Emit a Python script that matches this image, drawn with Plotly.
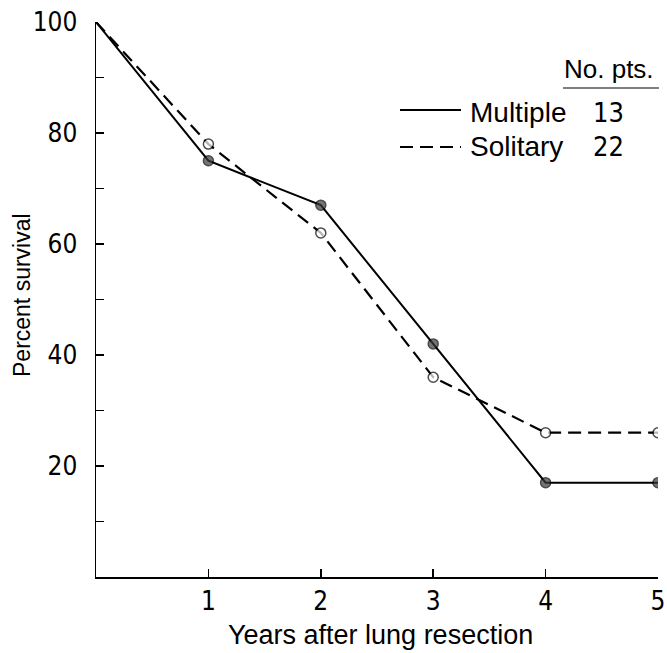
import plotly.graph_objects as go

# ---- data ----
years = [0, 1, 2, 3, 4, 5]
multiple = [100, 75, 67, 42, 17, 17]
solitary = [100, 78, 62, 36, 26, 26]
x_tick_vals = [1, 2, 3, 4, 5]
x_tick_text = ["1", "2", "3", "4", "5"]
y_tick_vals = [10, 20, 30, 40, 50, 60, 70, 80, 90, 100]
y_tick_text = ["", "20", "", "40", "", "60", "", "80", "", "100"]
series_names = ["Multiple", "Solitary"]
series_counts = ["13", "22"]
legend_header = "No. pts."
x_title = "Years after lung resection"
y_title = "Percent survival"

# ---- layout geometry ----
W, H = 667, 653
L, R, T, B = 96, 9, 22, 76
PW, PH = W - L - R, H - T - B


def px(x):
    return (x - L) / PW


def py(y):
    return (H - B - y) / PH


TEXT_FONT = "Liberation Sans, Arial, sans-serif"
TICK_FONT = "Liberation Sans Narrow, DejaVu Sans Condensed, Liberation Sans, Arial, sans-serif"

fig = go.Figure()

# marker hidden at year 0
msize = [0] + [10] * (len(years) - 1)

fig.add_trace(go.Scatter(
    x=years, y=multiple, mode="lines+markers", name=series_names[0],
    line=dict(color="black", width=2),
    marker=dict(size=msize, color="#3a3a3a", line=dict(color="black", width=1.5)),
    showlegend=False, hoverinfo="skip",
))
fig.add_trace(go.Scatter(
    x=years, y=solitary, mode="lines+markers", name=series_names[1],
    line=dict(color="black", width=2.2, dash="13px,7px"),
    marker=dict(size=msize, color="white", line=dict(color="black", width=1.5)),
    showlegend=False, hoverinfo="skip",
))

axis_common = dict(
    showline=True, linecolor="black", linewidth=1.5,
    ticks="inside", ticklen=8, tickwidth=1.5, tickcolor="black",
    showgrid=False, zeroline=False, mirror=False,
    tickfont=dict(family=TICK_FONT, size=26, color="black"),
)

fig.update_xaxes(range=[0, 5], tickmode="array", tickvals=x_tick_vals,
                 ticktext=x_tick_text, ticklabelstandoff=0, **axis_common)
fig.update_yaxes(range=[0, 100], tickmode="array", tickvals=y_tick_vals,
                 ticktext=y_tick_text, ticklabelstandoff=12, **axis_common)

annotations = [
    dict(text=x_title, x=px(380), y=py(635), xref="paper", yref="paper",
         xanchor="center", yanchor="middle", showarrow=False,
         font=dict(family=TEXT_FONT, size=27, color="black")),
    dict(text=y_title, x=px(22), y=py(295), xref="paper", yref="paper",
         xanchor="center", yanchor="middle", showarrow=False, textangle=-90,
         font=dict(family=TEXT_FONT, size=23, color="black")),
    dict(text=legend_header, x=px(562), y=py(69), xref="paper", yref="paper",
         xanchor="left", yanchor="middle", showarrow=False,
         font=dict(family=TEXT_FONT, size=26, color="black")),
]
row_y = [112, 146]
for name, cnt, ry in zip(series_names, series_counts, row_y):
    annotations.append(dict(text=name, x=px(468), y=py(ry), xref="paper", yref="paper",
                            xanchor="left", yanchor="middle", showarrow=False,
                            font=dict(family=TEXT_FONT, size=28, color="black")))
    annotations.append(dict(text=cnt, x=px(591), y=py(ry), xref="paper", yref="paper",
                            xanchor="left", yanchor="middle", showarrow=False,
                            font=dict(family=TICK_FONT, size=27, color="black")))

shapes = [
    dict(type="line", xref="paper", yref="paper", x0=px(563), x1=px(659),
         y0=py(88), y1=py(88), line=dict(color="black", width=1.2)),
    dict(type="line", xref="paper", yref="paper", x0=px(400), x1=px(461),
         y0=py(110), y1=py(110), line=dict(color="black", width=2)),
    dict(type="line", xref="paper", yref="paper", x0=px(400), x1=px(461),
         y0=py(147), y1=py(147), line=dict(color="black", width=2.2, dash="13px,7px")),
]

fig.update_layout(
    width=W, height=H, margin=dict(l=L, r=R, t=T, b=B, autoexpand=False),
    paper_bgcolor="white", plot_bgcolor="white",
    annotations=annotations, shapes=shapes, showlegend=False,
    hovermode=False,
)

fig.write_html(
    "out.html",
    config={"displayModeBar": False, "staticPlot": True},
    post_script="document.body.style.margin='0';document.body.style.overflow='hidden';",
)
